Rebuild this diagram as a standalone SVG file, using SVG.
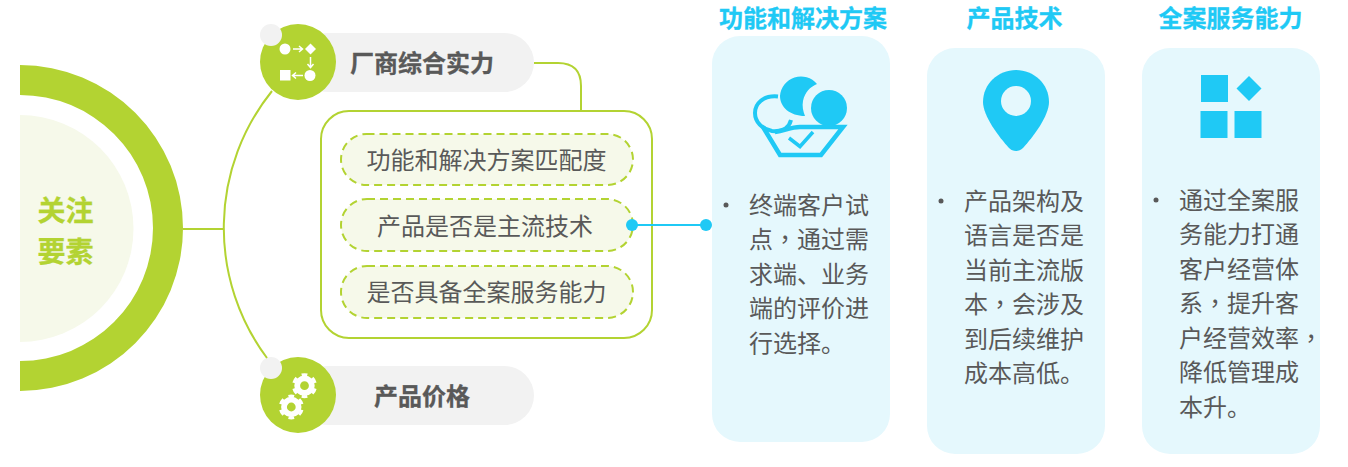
<svg xmlns="http://www.w3.org/2000/svg" width="1348" height="467" viewBox="0 0 1348 467">
<defs><style>
text{font-family:"Noto Sans CJK SC","Noto Sans",sans-serif;}
.g{fill:#b3d332}.w{fill:#fff}.b{fill:#1fc9f5}.pill{fill:#f2f2f2}
.line{fill:none;stroke:#b3d332;stroke-width:2}
.blue{fill:none;stroke:#1fc9f5;stroke-width:2}
.h{font-size:24px;font-weight:700;fill:#595959;text-anchor:middle;stroke:#595959;stroke-width:.3}
.o{fill:#f6f9ea;stroke:#b3d332;stroke-width:2;stroke-dasharray:8 5}
.t{font-size:24px;fill:#595959;text-anchor:middle}
.card{fill:#e5f8fd}
.ct{font-size:24px;font-weight:700;fill:#1fc9f5;text-anchor:middle;stroke:#1fc9f5;stroke-width:.3}
.body{font-size:24px;fill:#595959}
.dot{fill:#595959}
.c{font-family:"Noto Sans CJK TC","Noto Sans",sans-serif}
.k{font-size:28px;font-weight:700;fill:#b3d332;text-anchor:middle;stroke:#b3d332;stroke-width:.3}
.gear{fill:none;stroke:#fff}
.ico{fill:none;stroke:#1fc9f5}
</style></defs>
<g id="core">
<path d="M20 65A163 163 0 0 1 20 391V361A133 133 0 0 0 20 95Z" class="g"/>
<path d="M20 115A113.500 113.500 0 0 1 20 342Z" fill="#f6f9ea"/>
<text class="k" x="65.500" y="221">关注</text>
<text class="k" x="65.500" y="262">要素</text>
</g>
<g id="node-vendor">
<rect class="pill" x="298" y="33" width="236" height="59" rx="29.500"/>
<circle class="g" cx="298" cy="62" r="38"/>
<circle cx="271" cy="35" r="11" fill="#f2f2f2"/>
<circle class="w" cx="285" cy="49" r="5.500"/>
<path class="w" d="M310.500 43.500L316 49L310.500 54.500L305 49Z"/>
<rect class="w" x="280" y="70" width="10.500" height="10.500"/>
<circle class="w" cx="310" cy="75.500" r="5.500"/>
<path d="M293 49H302M299 46L302.500 49L299 52M310.500 57V67M307.500 64L310.500 67.500L313.500 64M303 75.500H293M296 72.500L292.500 75.500L296 78.500" fill="none" stroke="#fff" stroke-width="1.500"/>
<text class="h" x="422" y="72">厂商综合实力</text>
</g>
<g id="node-price">
<rect class="pill" x="298" y="366" width="236" height="59" rx="29.500"/>
<circle class="g" cx="298" cy="395" r="38"/>
<circle cx="271" cy="368" r="11" fill="#f2f2f2"/>
<g class="gear">
<circle cx="304.500" cy="385.700" r="7.300" stroke-width="5.800"/>
<circle cx="304.500" cy="385.700" r="11" stroke-width="3" pathLength="12" stroke-dasharray="1 1" stroke-dashoffset="-0.500"/>
<circle cx="291.300" cy="407" r="7.300" stroke-width="5.800"/>
<circle cx="291.300" cy="407" r="11" stroke-width="3" pathLength="12" stroke-dasharray="1 1" stroke-dashoffset="-0.500"/>
</g>
<text class="h" x="422" y="405">产品价格</text>
</g>
<g id="node-factors">
<rect x="321" y="111" width="331" height="227" rx="28" fill="#fff" stroke="#b3d332" stroke-width="2"/>
<rect class="o" x="341" y="134" width="292" height="51" rx="25.500"/>
<rect class="o" x="341" y="199" width="292" height="52" rx="26"/>
<rect class="o" x="341" y="266" width="292" height="52" rx="26"/>
<text class="t" x="486.500" y="169">功能和解决方案匹配度</text>
<text class="t" x="485" y="235">产品是否是主流技术</text>
<text class="t" x="486.500" y="301">是否具备全案服务能力</text>
</g>
<g id="card-solution">
<text class="ct" x="803" y="27">功能和解决方案</text>
<rect class="card" x="712" y="36" width="178" height="406" rx="28"/>
<path class="b" d="M817 84A21 21 0 0 0 780 96C780 107 790 116 805 116C803 111 802 106 803 101C805 92 810 87 817 84Z"/>
<circle class="b" cx="829" cy="108" r="18"/>
<path class="ico" stroke-width="4" d="M778 96.500C763 95 755 104 755 113C755 122 762 129 772 131C782 132 789 128 791 120"/>
<path class="ico" stroke-width="4.500" d="M763 127L780 155H821L843 127H800C790 127 785 131 775 132"/>
<path class="ico" stroke-width="3.500" d="M789 138L800 146.500L813 132"/>
<circle class="dot" cx="726" cy="205" r="2.500"/>
<text class="body" x="749" y="214">终端客户试</text>
<text class="body" x="749" y="248">点<tspan class="c">，</tspan>通过需</text>
<text class="body" x="749" y="283">求端、业务</text>
<text class="body" x="749" y="317">端的评价进</text>
<text class="body" x="749" y="352">行选择。</text>
</g>
<g id="card-tech">
<text class="ct" x="1014.500" y="27">产品技术</text>
<rect class="card" x="927" y="48" width="178" height="406" rx="28"/>
<path class="b" d="M1016 70C1034 70 1049 84 1049 102C1049 116 1033 137 1023 148C1019 152 1013 152 1009 148C999 137 983 116 983 102C983 84 998 70 1016 70Z"/>
<circle cx="1016" cy="101" r="15" fill="#e5f8fd"/>
<circle class="dot" cx="941" cy="201" r="2.500"/>
<text class="body" x="964" y="210">产品架构及</text>
<text class="body" x="964" y="244">语言是否是</text>
<text class="body" x="964" y="279">当前主流版</text>
<text class="body" x="964" y="313">本<tspan class="c">，</tspan>会涉及</text>
<text class="body" x="964" y="348">到后续维护</text>
<text class="body" x="964" y="382">成本高低。</text>
</g>
<g id="card-service">
<text class="ct" x="1230.500" y="27">全案服务能力</text>
<rect class="card" x="1142" y="48" width="178" height="406" rx="28"/>
<rect class="b" x="1201" y="75" width="27" height="27"/>
<path class="b" d="M1249 76L1261.500 88.500L1249 101L1236.500 88.500Z"/>
<rect class="b" x="1200.500" y="111" width="27" height="27"/>
<rect class="b" x="1234.500" y="111" width="27" height="27"/>
<circle class="dot" cx="1156" cy="200" r="2.500"/>
<text class="body" x="1179" y="209">通过全案服</text>
<text class="body" x="1179" y="243">务能力打通</text>
<text class="body" x="1179" y="278">客户经营体</text>
<text class="body" x="1179" y="312">系<tspan class="c">，</tspan>提升客</text>
<text class="body" x="1179" y="347">户经营效率<tspan class="c">，</tspan></text>
<text class="body" x="1179" y="381">降低管理成</text>
<text class="body" x="1179" y="416">本升。</text>
</g>
<g id="connectors">
<path class="line" d="M183 229H223.500"/>
<path class="line" d="M272 91A218 218 0 0 0 267 358"/>
<path class="line" d="M534 63H558Q581 63 581 86V111"/>
<path class="blue" d="M632 225H706"/>
<circle class="b" cx="632" cy="225" r="6"/>
<circle class="b" cx="706" cy="225" r="6"/>
</g>
</svg>
